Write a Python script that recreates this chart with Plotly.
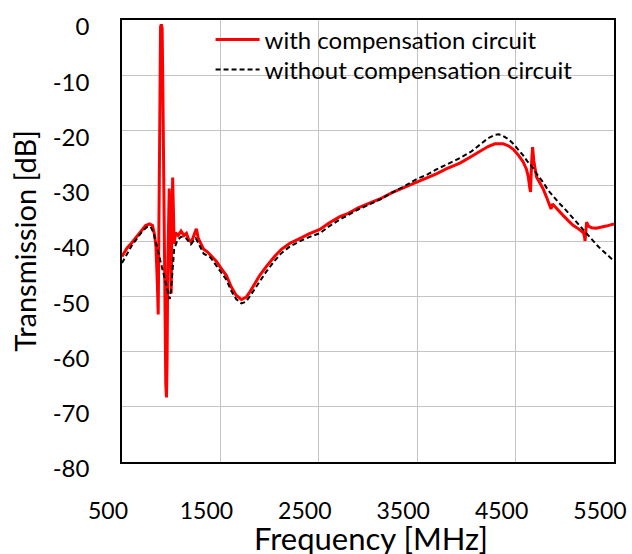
import plotly.graph_objects as go

# with compensation circuit
freq_with = [500, 550, 600, 650, 700, 740, 780, 810, 830, 845, 860, 868, 874, 880, 886, 892, 900, 908,
             915, 925, 935, 945, 952, 958, 965, 972, 980, 988, 995, 1000, 1005, 1010, 1015, 1022, 1030,
             1045, 1070, 1100, 1130, 1155, 1180, 1205, 1230, 1256, 1275, 1300, 1330, 1370, 1410, 1460,
             1510, 1560, 1610, 1660, 1714, 1760, 1800, 1850, 1900, 1968, 2050, 2120, 2206, 2300, 2400,
             2510, 2600, 2714, 2800, 2900, 3000, 3120, 3250, 3380, 3493, 3600, 3700, 3800, 3934, 4050,
             4137, 4220, 4290, 4374, 4430, 4476, 4530, 4577, 4610, 4628, 4645, 4652, 4662, 4673, 4685,
             4713, 4750, 4781, 4820, 4849, 4860, 4875, 4900, 4950, 4985, 5040, 5087, 5140, 5189, 5200,
             5206, 5215, 5222, 5240, 5273, 5320, 5357, 5420, 5500]
db_with = [-42.8, -41.3, -40.3, -39.2, -38.0, -37.2, -36.9, -37.2, -38.8, -41.0, -48.0, -53.3, -40.0, -20.0,
           -5.0, -1.2, -0.8, -1.5, -12.0, -35.0, -55.0, -66.0, -68.3, -62.0, -45.0, -32.0, -30.5, -35.0,
           -49.0, -49.5, -40.0, -29.0, -28.5, -34.0, -40.5, -38.5, -39.0, -38.2, -39.0, -38.6, -39.8, -40.2,
           -39.0, -37.8, -39.5, -40.5, -41.5, -42.0, -42.8, -43.7, -45.0, -46.2, -48.3, -49.8, -50.6, -50.2,
           -49.2, -47.8, -46.2, -44.6, -42.8, -41.5, -40.4, -39.6, -38.7, -37.9, -36.8, -35.6, -35.0, -34.0,
           -33.3, -32.4, -31.2, -30.2, -29.4, -28.6, -27.8, -26.9, -25.9, -24.7, -23.8, -22.9, -22.4, -22.4,
           -22.8, -23.4, -24.5, -25.7, -27.0, -28.3, -30.5, -31.1, -26.0, -23.0, -25.5, -28.4, -29.6, -30.6,
           -32.3, -33.8, -34.2, -33.3, -33.8, -34.8, -35.4, -36.4, -37.2, -37.8, -38.5, -39.2, -40.0, -38.0,
           -36.6, -37.3, -37.6, -37.7, -37.6, -37.3, -36.9]

# without compensation circuit
freq_without = [500, 550, 600, 650, 700, 750, 790, 820, 860, 900, 940, 970, 985, 1000, 1015, 1030, 1060,
                1100, 1150, 1200, 1250, 1290, 1330, 1400, 1460, 1510, 1560, 1610, 1660, 1714, 1760, 1800,
                1850, 1900, 1968, 2050, 2120, 2206, 2300, 2400, 2510, 2600, 2714, 2800, 2900, 3000, 3120,
                3250, 3380, 3493, 3600, 3700, 3800, 3934, 4050, 4137, 4220, 4290, 4330, 4374, 4430, 4476,
                4530, 4577, 4620, 4673, 4720, 4781, 4830, 4883, 4935, 4985, 5040, 5087, 5140, 5189, 5240,
                5290, 5340, 5400, 5450, 5500]
db_without = [-44.0, -42.3, -40.8, -39.6, -38.4, -37.5, -37.4, -38.5, -41.5, -44.0, -47.0, -49.5, -50.5,
              -48.5, -44.0, -41.5, -40.0, -39.2, -39.5, -40.6, -39.5, -40.8, -42.3, -43.0, -44.5, -45.8,
              -47.0, -49.0, -50.5, -51.3, -51.0, -50.0, -48.6, -47.2, -45.5, -43.6, -42.2, -41.0, -40.1,
              -39.3, -38.6, -37.4, -36.1, -35.3, -34.3, -33.5, -32.5, -31.2, -30.0, -28.8, -28.0, -27.0,
              -26.2, -25.0, -23.8, -22.5, -21.4, -20.8, -20.7, -21.0, -21.6, -22.4, -23.5, -24.5, -25.6,
              -26.7, -28.0, -29.4, -30.8, -32.0, -33.0, -33.9, -35.0, -36.0, -37.0, -38.1, -39.1, -40.0,
              -41.0, -42.0, -42.8, -43.6]

x_ticks = [500, 1500, 2500, 3500, 4500, 5500]
y_ticks = [0, -10, -20, -30, -40, -50, -60, -70, -80]
x_title = "Frequency [MHz]"
y_title = "Transmission [dB]"

FONT = "Lato"

fig = go.Figure()
fig.add_trace(go.Scatter(x=freq_with, y=db_with, mode="lines", name="with compensation circuit",
                         line=dict(color="#ff0000", width=3), legend="legend"))
fig.add_trace(go.Scatter(x=freq_without, y=db_without, mode="lines", name="without compensation circuit",
                         line=dict(color="#000000", width=2, dash="5px,3px"), legend="legend2"))

# white legend background (covers gridlines)
fig.add_shape(type="rect", xref="paper", yref="paper", x0=0.1932, x1=0.9797, y0=0.8836, y1=0.976,
              fillcolor="white", line=dict(width=0), layer="between")
fig.add_shape(type="rect", xref="paper", yref="paper", x0=0.2434, x1=0.9797, y0=0.8588, y1=0.983,
              fillcolor="white", line=dict(width=0), layer="between")

# x-axis title (bottom of it meets the page edge, as in the reference)
fig.add_annotation(text=x_title, xref="paper", yref="paper", x=0.506, y=-0.125,
                   xanchor="center", yanchor="top", showarrow=False,
                   font=dict(family=FONT, size=31, color="black"))

legend_common = dict(xanchor="left", yanchor="top", bgcolor="rgba(0,0,0,0)",
                     font=dict(family=FONT, size=24, color="black"), itemwidth=44)

fig.update_layout(
    width=632, height=554,
    margin=dict(l=122, r=18, t=20, b=92),
    paper_bgcolor="white", plot_bgcolor="white",
    font=dict(family=FONT, color="black", size=24),
    showlegend=True,
    legend=dict(x=0.18, y=1.0056, **legend_common),
    legend2=dict(x=0.18, y=0.9379, **legend_common),
    xaxis=dict(range=[500, 5500], tickvals=x_ticks, ticktext=[str(v) for v in x_ticks],
               showgrid=True, gridcolor="#c4c4c4", gridwidth=1.2, zeroline=False, automargin=False,
               showline=True, linecolor="black", linewidth=1.5, mirror=True, ticks="",
               tickfont=dict(family=FONT, size=23), ticklabelshift=-14, ticklabelstandoff=28,
               ticklabeloverflow="allow"),
    yaxis=dict(range=[-80, 0], tickvals=y_ticks, ticktext=[str(v) for v in y_ticks],
               showgrid=True, gridcolor="#c4c4c4", gridwidth=1.2, zeroline=False, automargin=False,
               showline=True, linecolor="black", linewidth=1.5, mirror=True, ticks="",
               tickfont=dict(family=FONT, size=24), ticklabelshift=7, ticklabelstandoff=26,
               ticklabeloverflow="allow",
               title=dict(text=y_title, font=dict(family=FONT, size=29), standoff=8)),
)

fig.write_html("out.html")
